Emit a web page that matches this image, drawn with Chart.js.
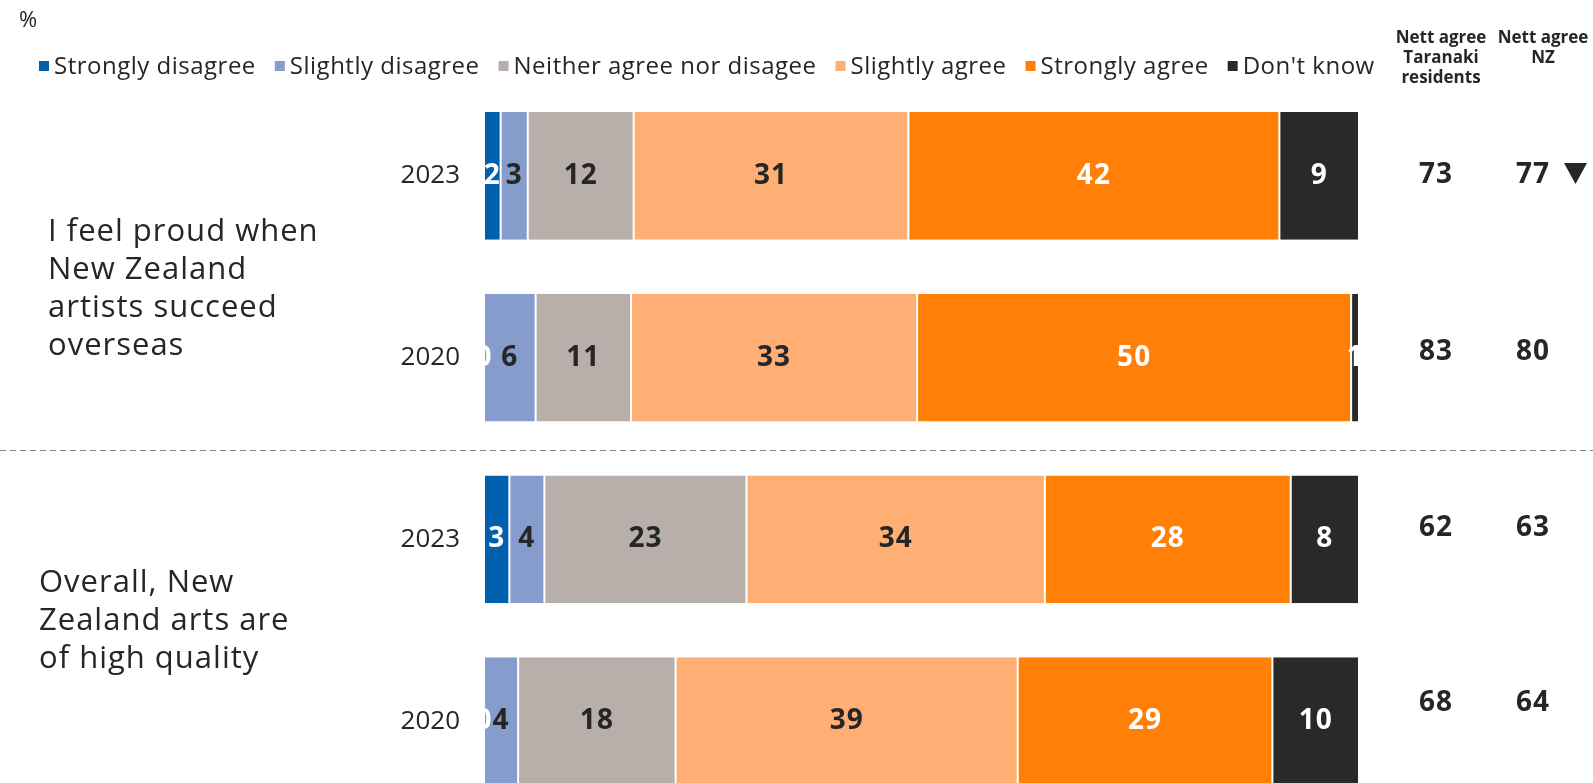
<!DOCTYPE html>
<html>
<head>
<meta charset="utf-8">
<script src="https://cdn.jsdelivr.net/npm/chart.js@4.4.0/dist/chart.umd.min.js"></script>
<style>
  html, body { margin: 0; padding: 0; background: #fff; overflow: hidden; }
  #wrap { position: relative; width: 1593px; height: 830px; }
</style>
</head>
<body>
<div id="wrap"><canvas id="chart" width="1593" height="830"></canvas></div>
<script>
// Data (%), one entry per bar, top to bottom
const years = ["2023", "2020", "2023", "2020"];
const statements = [
  ["I feel proud when", "New Zealand", "artists succeed", "overseas"],
  ["Overall, New", "Zealand arts are", "of high quality"]
];
const seriesNames = ["Strongly disagree", "Slightly disagree", "Neither agree nor disagee", "Slightly agree", "Strongly agree", "Don't know"];
const stronglyDisagree = [1.9, 0, 2.9, 0];
const slightlyDisagree = [3.1, 5.9, 4.0, 3.9];
const neitherAgree     = [12.1, 10.9, 23.1, 18.0];
const slightlyAgree    = [31.4, 32.7, 34.1, 39.1];
const stronglyAgree    = [42.4, 49.6, 28.1, 29.1];
const dontKnow         = [9.1, 0.9, 7.8, 9.9];
const nettTaranaki = [73, 83, 62, 68];
const nettNZ       = [77, 80, 63, 64];
const nzLower      = [true, false, false, false];

const colors      = ["#0060AD", "#859CCD", "#B8AFAA", "#FFAF73", "#FF7F07", "#2A2829"];
const labelColors = ["#ffffff", "#262626", "#262626", "#262626", "#ffffff", "#ffffff"];
const DARK = "#262626";
const FONT = "'Open Sans'";

Chart.defaults.font.family = "Open Sans";

const series = [stronglyDisagree, slightlyDisagree, neitherAgree, slightlyAgree, stronglyAgree, dontKnow];

const datasets = series.map((vals, i) => ({
  label: seriesNames[i],
  data: vals,
  backgroundColor: colors[i],
  borderColor: "#ffffff",
  borderWidth: { left: 1, right: 1, top: 0, bottom: 0 },
  borderSkipped: false,
  barPercentage: 0.704,
  categoryPercentage: 1
}));

// draws segment values, side texts, nett columns, legend
const extras = {
  id: "extras",
  afterDatasetsDraw(chart) {
    const ctx = chart.ctx;
    ctx.save();
    ctx.font = "bold 28px " + FONT;
    ctx.letterSpacing = "1px";
    ctx.textAlign = "center";
    ctx.textBaseline = "middle";
    chart.data.datasets.forEach((ds, i) => {
      const meta = chart.getDatasetMeta(i);
      meta.data.forEach((el, j) => {
        ctx.fillStyle = labelColors[i];
        ctx.fillText(String(Math.round(ds.data[j])), (el.x + el.base) / 2, el.y);
      });
    });
    ctx.restore();
  },
  afterDraw(chart) {
    const ctx = chart.ctx;
    const y = chart.scales.y;
    ctx.save();

    // "%"
    ctx.fillStyle = DARK;
    ctx.font = "22px " + FONT;
    ctx.textBaseline = "middle";
    ctx.textAlign = "left";
    ctx.fillText("%", 19, 21);

    // legend
    let lx = 39;
    ctx.font = "24px " + FONT;
    ctx.letterSpacing = "0.5px";
    chart.data.datasets.forEach((ds) => {
      ctx.fillStyle = ds.backgroundColor;
      ctx.fillRect(lx, 61, 10, 10);
      ctx.fillStyle = DARK;
      ctx.fillText(ds.label, lx + 15, 67);
      lx += 15 + ctx.measureText(ds.label).width + 19;
    });
    ctx.letterSpacing = "0px";

    // column headers
    ctx.font = "bold 17px " + FONT;
    ctx.textAlign = "center";
    ["Nett agree", "Taranaki", "residents"].forEach((t, k) => ctx.fillText(t, 1441, 38 + k * 20));
    ["Nett agree", "NZ"].forEach((t, k) => ctx.fillText(t, 1543, 38 + k * 20));

    // nett values (sit a little higher than the bar centre further down)
    const nettDy = [-1, -6, -11, -18];
    ctx.font = "bold 28px " + FONT;
    ctx.letterSpacing = "1px";
    years.forEach((yr, j) => {
      const py = y.getPixelForValue(j) + nettDy[j];
      ctx.fillStyle = DARK;
      ctx.fillText(String(nettTaranaki[j]), 1436, py);
      ctx.fillText(String(nettNZ[j]), 1533, py);
      if (nzLower[j]) {
        ctx.beginPath();
        ctx.moveTo(1564, py - 12);
        ctx.lineTo(1587, py - 12);
        ctx.lineTo(1575.5, py + 9);
        ctx.closePath();
        ctx.fill();
      }
    });
    ctx.letterSpacing = "0px";

    // statements on the left
    const stX = [48, 39];
    const stDy = [22, -9];
    ctx.font = "31px " + FONT;
    ctx.letterSpacing = "1px";
    ctx.textAlign = "left";
    statements.forEach((lines, g) => {
      const mid = (y.getPixelForValue(g * 2) + y.getPixelForValue(g * 2 + 1)) / 2 + stDy[g];
      const top = mid - (lines.length - 1) * 38 / 2;
      lines.forEach((t, k) => ctx.fillText(t, stX[g], top + k * 38));
    });
    ctx.letterSpacing = "0px";

    // dashed separator between the two statements
    const sep = (y.getPixelForValue(1) + y.getPixelForValue(2)) / 2 + 1.5;
    ctx.strokeStyle = "#8a8a8a";
    ctx.lineWidth = 1;
    ctx.setLineDash([6, 4]);
    ctx.beginPath();
    ctx.moveTo(0, Math.round(sep) + 0.5);
    ctx.lineTo(chart.width, Math.round(sep) + 0.5);
    ctx.stroke();

    ctx.restore();
  }
};

new Chart(document.getElementById("chart").getContext("2d"), {
  type: "bar",
  data: { labels: years, datasets },
  options: {
    indexAxis: "y",
    responsive: false,
    animation: false,
    layout: { padding: { left: 0, right: 234, top: 85, bottom: 18 } },
    plugins: { legend: { display: false }, tooltip: { enabled: false } },
    scales: {
      x: { stacked: true, min: 0, max: 100, display: false },
      y: {
        stacked: true,
        grid: { display: false },
        border: { display: false },
        ticks: { color: DARK, font: { size: 26 }, padding: 16 },
        afterFit(axis) {
          axis.width = 484;
          axis.paddingTop = 0;
          axis.paddingBottom = 0;
        }
      }
    }
  },
  plugins: [extras]
});
</script>
</body>
</html>
